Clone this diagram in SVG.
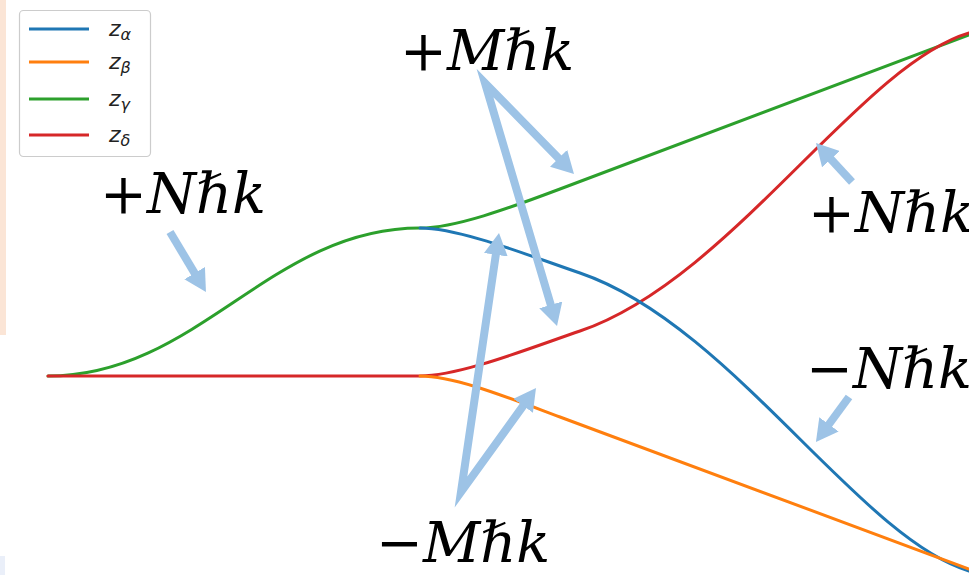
<svg xmlns="http://www.w3.org/2000/svg" width="969" height="575" viewBox="0 0 969 575">
  <style>
    .curve { fill: none; stroke-width: 3; stroke-linecap: round; stroke-linejoin: round; }
    .arrow { fill: none; stroke: #9dc3e6; stroke-width: 8; stroke-linejoin: miter; stroke-miterlimit: 12; marker-end: url(#ah); }
    .arrow2 { marker-start: url(#ah); }
    .lbl { font-family: "DejaVu Serif", "Liberation Serif", serif; font-size: 56px; fill: #000; }
    .it { font-style: italic; }
    .leg { font-family: "DejaVu Sans", "Liberation Sans", sans-serif; font-style: italic; font-size: 22px; fill: #222; }
    .sub { font-size: 16px; }
  </style>
  <defs>
    <marker id="ah" viewBox="0 0 11 12" refX="2" refY="6" markerWidth="2.75" markerHeight="3" orient="auto-start-reverse" markerUnits="strokeWidth">
      <path d="M0,0 L11,6 L0,12 z" fill="#9dc3e6"/>
    </marker>
  </defs>
  <rect width="969" height="575" fill="#ffffff"/>
  <rect x="0" y="0" width="6" height="335" fill="#fbe5d6"/>
  <rect x="0" y="556" width="5" height="19" fill="#eaeff9"/>

  <g id="curve-green"><path class="curve" stroke="#2ca02c" d="M48,376 C198,376 270,228 420,228 C455,228 508,208.6 560,189 L969,35"/></g>
  <g id="curve-red"><path class="curve" stroke="#d62728" d="M48,376 L420,376 C460,376 530,348 580,331 C730,280 859,66 969,33"/></g>
  <g id="curve-blue"><path class="curve" stroke="#1f77b4" d="M420,228 C460,228 530,256 580,273 C730,324 859,538 969,571"/></g>
  <g id="curve-orange"><path class="curve" stroke="#ff7f0e" d="M420,376 C455,376 508,397.6 560,417 L969,569"/></g>

  <g id="connectors">
    <path class="arrow" d="M170,232 L196.7,276.6"/>
    <path class="arrow arrow2" d="M561.4,161.1 L485,83 L551.9,308.7"/>
    <path class="arrow arrow2" d="M496.4,250.8 L461,492 L525.5,402.6"/>
    <path class="arrow" d="M852,182 L828.2,156.2"/>
    <path class="arrow" d="M849,397 L826.6,427.5"/>
  </g>

  <g id="legend">
    <rect x="19.5" y="10.5" width="131" height="146" rx="4" fill="#ffffff" stroke="#cccccc" stroke-width="1.2"/>
    <line x1="29" y1="29" x2="89" y2="29" stroke="#1f77b4" stroke-width="3"/>
    <line x1="29" y1="62" x2="89" y2="62" stroke="#ff7f0e" stroke-width="3"/>
    <line x1="29" y1="99" x2="89" y2="99" stroke="#2ca02c" stroke-width="3"/>
    <line x1="29" y1="135" x2="89" y2="135" stroke="#d62728" stroke-width="3"/>
    <text class="leg" x="109" y="36">z<tspan class="sub" dy="4">α</tspan></text>
    <text class="leg" x="109" y="69">z<tspan class="sub" dy="4">β</tspan></text>
    <text class="leg" x="109" y="106">z<tspan class="sub" dy="4">γ</tspan></text>
    <text class="leg" x="109" y="142">z<tspan class="sub" dy="4">δ</tspan></text>
  </g>

  <g id="label-plusN-left"><text class="lbl" x="100" y="213">+<tspan class="it">Nℏk</tspan></text></g>
  <g id="label-plusM"><text class="lbl" x="400" y="70">+<tspan class="it">Mℏk</tspan></text></g>
  <g id="label-plusN-right"><text class="lbl" x="808" y="232">+<tspan class="it">Nℏk</tspan></text></g>
  <g id="label-minusN"><text class="lbl" x="806" y="388">−<tspan class="it">Nℏk</tspan></text></g>
  <g id="label-minusM"><text class="lbl" x="376" y="562">−<tspan class="it">Mℏk</tspan></text></g>
</svg>
